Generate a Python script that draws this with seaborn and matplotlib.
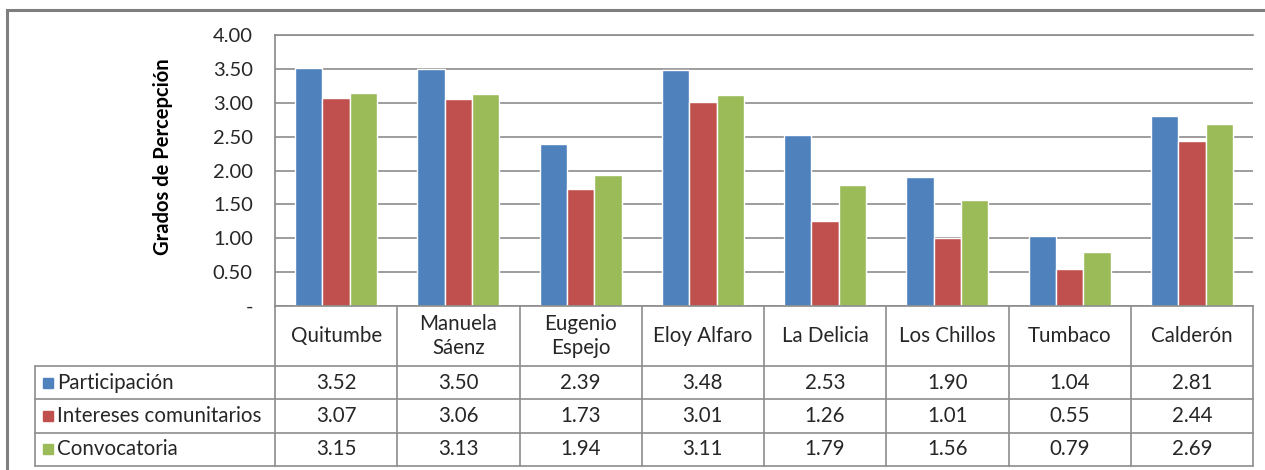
import pandas as pd
import matplotlib.pyplot as plt
import seaborn as sns
from matplotlib.patches import Rectangle

sns.set_theme(style="white")
plt.rcParams['font.family'] = ['Lato', 'DejaVu Sans']

# --- Datos ---
zonas = ['Quitumbe', 'Manuela\nSáenz', 'Eugenio\nEspejo', 'Eloy Alfaro',
         'La Delicia', 'Los Chillos', 'Tumbaco', 'Calderón']
series = ['Participación', 'Intereses comunitarios', 'Convocatoria']
participacion = [3.52, 3.50, 2.39, 3.48, 2.53, 1.90, 1.04, 2.81]
intereses = [3.07, 3.06, 1.73, 3.01, 1.26, 1.01, 0.55, 2.44]
convocatoria = [3.15, 3.13, 1.94, 3.11, 1.79, 1.56, 0.79, 2.69]
colores = ['#4F81BD', '#C0504D', '#9BBB59']
yticks = [0, 0.5, 1.0, 1.5, 2.0, 2.5, 3.0, 3.5, 4.0]

valores = [participacion, intereses, convocatoria]
df = pd.DataFrame({
    'Zona': zonas * 3,
    'Serie': [s for s in series for _ in zonas],
    'Valor': participacion + intereses + convocatoria,
})

W, H = 1265, 470
fs = 14.8
fig = plt.figure(figsize=(W / 100, H / 100), dpi=100)
gris = '#8C8C8C'
txt = '#262626'

# marco exterior
fig.patches.append(Rectangle((7 / W, -0.1), 1.2, 1 - 10 / H + 0.1,
                             transform=fig.transFigure, fill=False,
                             edgecolor='#7F7F7F', linewidth=2.2))

# --- Gráfico de barras ---
left, right, top, bottom = 275, 1253, 35, 306
ax = fig.add_axes([left / W, 1 - bottom / H, (right - left) / W, (bottom - top) / H])
sns.barplot(data=df, x='Zona', y='Valor', hue='Serie', palette=colores,
            width=0.67, saturation=1, legend=False, ax=ax)
ax.set_ylim(0, 4.0)
ax.set_xlim(-0.5, len(zonas) - 0.5)
ax.set_yticks(yticks)
ax.set_yticklabels(['-'] + [f'{v:.2f}' for v in yticks[1:]], fontsize=14.5)
ax.yaxis.grid(True, color=gris, linewidth=1.2)
ax.set_axisbelow(True)
ax.set_xticks([])
ax.set_xlabel('')
ax.set_ylabel('Grados de Percepción', fontsize=14.5, fontweight='bold', color='black')
ax.yaxis.label.set_va('center')
ax.yaxis.set_label_coords((163 - left) / (right - left), 0.55)
ax.tick_params(axis='y', length=0, pad=16, colors=txt)
for s in ['right', 'bottom']:
    ax.spines[s].set_visible(False)
ax.spines['left'].set_color(gris)
ax.spines['top'].set_color(gris)
ax.spines['top'].set_linewidth(1.2)

# --- Tabla de datos ---
tleft, ttop, tbottom = 35, 306, 466
col_w = (right - left) / len(zonas)
lab_w = (left - tleft) / col_w
tax = fig.add_axes([tleft / W, 1 - tbottom / H, (right - tleft) / W, (tbottom - ttop) / H])
tax.set_xlim(-0.5 - lab_w, len(zonas) - 0.5)
tax.set_ylim(tbottom - ttop, 0)
tax.axis('off')

hdr = 60
row_h = (tbottom - ttop - hdr) / 3
lk = dict(color=gris, linewidth=1.2, clip_on=False)
tax.plot([-0.5, len(zonas) - 0.5], [0, 0], **lk)
for k in range(4):
    tax.plot([-0.5 - lab_w, len(zonas) - 0.5], [hdr + k * row_h] * 2, **lk)
for i in range(len(zonas) + 1):
    tax.plot([i - 0.5] * 2, [0, tbottom - ttop], **lk)
tax.plot([-0.5 - lab_w] * 2, [hdr, tbottom - ttop], **lk)

for i, z in enumerate(zonas):
    tax.text(i, hdr / 2, z, ha='center', va='center', fontsize=fs,
             color=txt, linespacing=1.2)
for j, (s, vals) in enumerate(zip(series, valores)):
    yc = hdr + (j + 0.5) * row_h
    tax.add_patch(Rectangle((-0.5 - lab_w + 8 / col_w, yc - 5), 10 / col_w, 10,
                            color=colores[j]))
    tax.text(-0.5 - lab_w + 22 / col_w, yc, s, ha='left', va='center',
             fontsize=fs, color=txt)
    for i, v in enumerate(vals):
        tax.text(i, yc, f'{v:.2f}', ha='center', va='center', fontsize=fs,
                 color=txt)

plt.savefig('out.png', dpi=100)
